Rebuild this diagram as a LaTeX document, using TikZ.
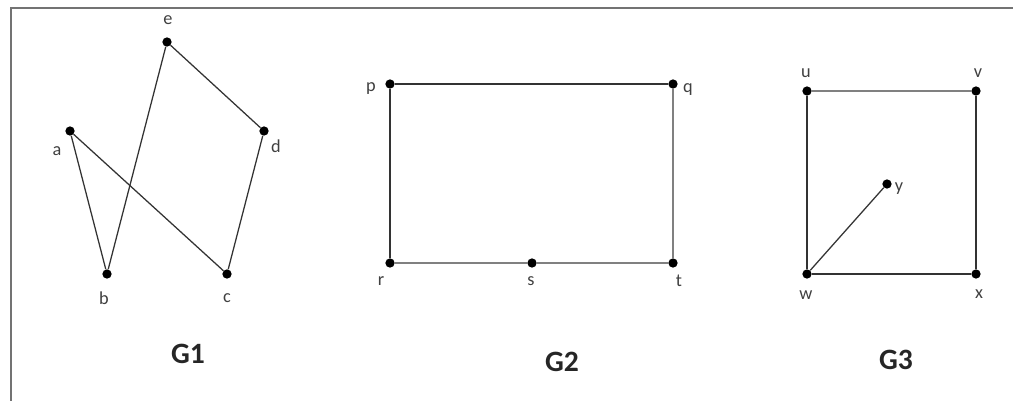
\documentclass[tikz,border=0pt]{standalone}
\usepackage{fontspec}
\setmainfont{Carlito}
\usepackage{tikz}
\usetikzlibrary{positioning}

\tikzset{
  vertex/.style={circle, fill=black, inner sep=0pt, minimum size=6.6pt},
  lbl/.style={font=\fontsize{13}{15}\selectfont, text=black!75},
  edge/.style={black!80, line width=0.9pt},
  edgelight/.style={black!50, line width=0.9pt},
  title/.style={font=\fontsize{21}{24}\selectfont\bfseries, text=black!85}
}

\begin{document}
\begin{tikzpicture}[x=0.025cm, y=-0.025cm]
  \useasboundingbox (0,0) rectangle (1013,401);
  \draw[black!55, line width=1.4pt] (11,401) -- (11,8) -- (1013,8);

  % G1
  \node[vertex] (e) at (167,42) {};
  \node[vertex] (d) at (264,131) {};
  \node[vertex] (a) at (70,131) {};
  \node[vertex] (b) at (107,274) {};
  \node[vertex] (c) at (227,274) {};
  \node[lbl] at (168,20) {e};
  \node[lbl] at (276,146) {d};
  \node[lbl] at (57,151) {a};
  \node[lbl] at (104,298) {b};
  \node[lbl] at (227,298) {c};
  \draw[edge] (a) -- (b);
  \draw[edge] (a) -- (c);
  \draw[edge] (b) -- (e);
  \draw[edge] (e) -- (d);
  \draw[edge] (d) -- (c);
  \node[title] (g1) at (188,354) {G1};

  % G2
  \node[vertex] (p) at (390,84) {};
  \node[vertex] (q) at (673,84) {};
  \node[vertex] (r) at (390,263) {};
  \node[vertex] (s) at (532,263) {};
  \node[vertex] (t) at (673,263) {};
  \node[lbl] at (371,89) {p};
  \node[lbl] at (688,90) {q};
  \node[lbl] at (381,281) {r};
  \node[lbl] at (531,281) {s};
  \node[lbl] at (679,281) {t};
  \draw[edge] (p) -- (q);
  \draw[edge] (p) -- (r);
  \draw[edgelight] (q) -- (t);
  \draw[edgelight] (r) -- (s);
  \draw[edgelight] (s) -- (t);
  \node[title] (g2) at (562,362) {G2};

  % G3
  \node[vertex] (u) at (807,91) {};
  \node[vertex] (v) at (976,91) {};
  \node[vertex] (w) at (807,274) {};
  \node[vertex] (x) at (976,274) {};
  \node[vertex] (y) at (887,184) {};
  \node[lbl] at (806,73) {u};
  \node[lbl] at (978,73) {v};
  \node[lbl] at (806,295) {w};
  \node[lbl] at (979,294) {x};
  \node[lbl] at (899,189) {y};
  \draw[edgelight] (u) -- (v);
  \draw[edge] (u) -- (w);
  \draw[edge] (v) -- (x);
  \draw[edge] (w) -- (x);
  \draw[edge] (w) -- (y);
  \node[title] (g3) at (896,360) {G3};
\end{tikzpicture}
\end{document}
